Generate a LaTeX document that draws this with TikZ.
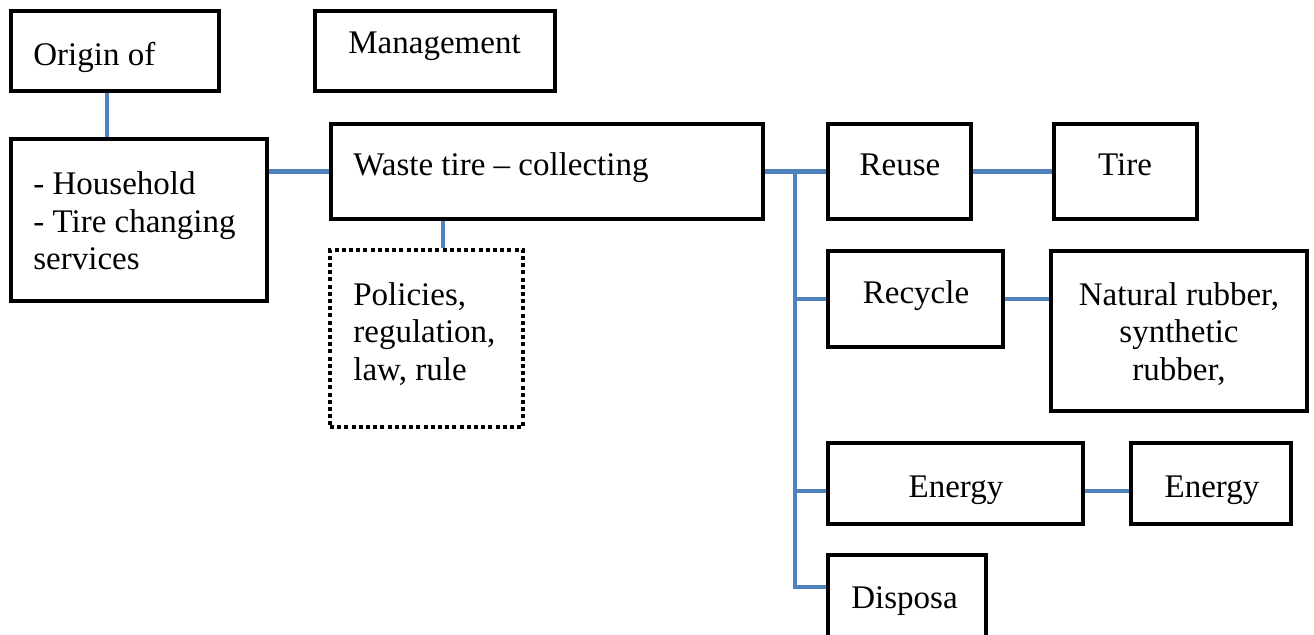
\documentclass[tikz,border=0pt]{standalone}
\usepackage{fontspec}
\setmainfont{Liberation Serif}
\usetikzlibrary{fit}

\definecolor{linkblue}{RGB}{79,129,189}

\tikzset{
    box/.style={draw, line width=2.2pt, inner sep=0pt},
    dotbox/.style={draw, line width=2pt, dash pattern=on 2pt off 1.6pt, inner sep=0pt},
    txt/.style={inner sep=0pt, font=\fontsize{16.5}{18.75}\selectfont},
    link/.style={draw=linkblue, line width=2.2pt},
}

\begin{document}
\begin{tikzpicture}[x=0.5pt, y=-0.5pt]
    % Page (pixel grid, y going down)
    \clip (0,0) rectangle (1314,634);

    % Top row
    \node[box, fit={(11,11) (219,91)}] (origin) {};
    \node[box, fit={(315,11) (555,91)}] (mgmt) {};
    \node[txt, anchor=base west] (origin-t) at (33,65) {Origin of};
    \node[txt, anchor=base west] (mgmt-t) at (348,53) {Management};

    % Sources and collecting
    \node[box, fit={(11,139) (267,301)}] (house) {};
    \node[txt, align=left, anchor=west] (house-t) at (33,221) {- Household\\- Tire changing\\services};
    \node[box, fit={(331,124) (763,219)}] (waste) {};
    \node[txt, anchor=base west] (waste-t) at (353,175) {Waste tire – collecting};
    \node[dotbox, fit={(330,250) (523,427)}] (policy) {};
    \node[txt, align=left, anchor=west] (policy-t) at (353,334) {Policies,\\regulation,\\law, rule};

    % Treatment options
    \node[box, fit={(828,124) (971,219)}] (reuse) {};
    \node[txt, anchor=base] (reuse-t) at (900,175) {Reuse};
    \node[box, fit={(828,251) (1003,347)}] (recycle) {};
    \node[txt, anchor=base] (recycle-t) at (916,303) {Recycle};
    \node[box, fit={(828,443) (1083,524)}] (energy) {};
    \node[txt, anchor=base] (energy-t) at (956,497) {Energy};
    \node[box, fit={(828,555) (986,700)}] (disposa) {};
    \node[txt, anchor=base west] (disposa-t) at (851,608) {Disposa};

    % Products
    \node[box, fit={(1054,124) (1197,219)}] (tire) {};
    \node[txt, anchor=base] (tire-t) at (1125,175) {Tire};
    \node[box, fit={(1051,251) (1307,411)}] (natural) {};
    \node[txt, align=center] (natural-t) at (1179,334) {Natural rubber,\\synthetic\\rubber,};
    \node[box, fit={(1131,443) (1291,524)}] (energy2) {};
    \node[txt, anchor=base] (energy2-t) at (1212,497) {Energy};

    % Connectors
    \coordinate (o-h) at ([xshift=-4pt]origin.south);
    \draw[link] (o-h) -- (o-h |- house.north);
    \draw[link] (waste.west -| house.east) -- (waste.west);
    \coordinate (w-p) at ([xshift=8.25pt]policy.north);
    \draw[link] (w-p) -- (w-p |- waste.south);

    % Bus to the options
    \coordinate (bus) at (795,0);
    \coordinate (busend) at (795,587);
    \coordinate (e-w) at ([yshift=-3.75pt]energy.west);
    \coordinate (e-e) at ([yshift=-3.75pt]energy.east);
    \draw[link] (waste.east) -- (reuse.west);
    \draw[link] (waste.east -| bus) -- (busend) -- (busend -| disposa.west);
    \draw[link] (recycle.west -| bus) -- (recycle.west);
    \draw[link] (e-w -| bus) -- (e-w);

    % Options to products
    \draw[link] (reuse.east) -- (tire.west);
    \draw[link] (recycle.east) -- (recycle.east -| natural.west);
    \draw[link] (e-e) -- (e-e -| energy2.west);
\end{tikzpicture}
\end{document}
